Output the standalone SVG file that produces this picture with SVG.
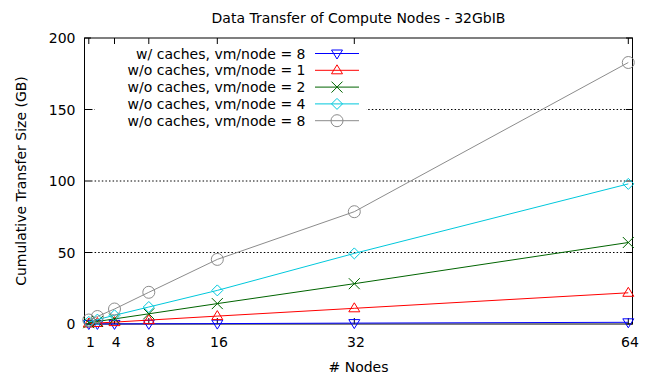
<svg xmlns="http://www.w3.org/2000/svg" xmlns:xlink="http://www.w3.org/1999/xlink" width="652" height="377" viewBox="0 0 652 377">
  <style>
    text { font-family: "DejaVu Sans", "Liberation Sans", sans-serif; font-size: 14px; fill: #000; }
    .ax { stroke: #000; stroke-width: 1; fill: none; }
    .grid { stroke: #000; stroke-width: 1; stroke-dasharray: 1.5 2.1; fill: none; }
    .s { fill: none; stroke-width: 1; }
    .ln { fill: none; }
  </style>
  <defs>
    <path id="tdn" d="M-5.5,-3.5 L5.5,-3.5 L0,5.5 Z"/>
    <path id="tup" d="M-5.5,3.5 L5.5,3.5 L0,-5.5 Z"/>
    <path id="crs" d="M-5.5,-5.5 L5.5,5.5 M-5.5,5.5 L5.5,-5.5"/>
    <path id="dia" d="M0,-5.5 L5.5,0 L0,5.5 L-5.5,0 Z"/>
    <circle id="cir" r="6"/>
  </defs>

  <rect width="652" height="377" fill="#fff"/>

  <!-- title and axis labels -->
  <text x="358.5" y="22.5" text-anchor="middle">Data Transfer of Compute Nodes - 32GbIB</text>
  <text x="358.5" y="372" text-anchor="middle"># Nodes</text>
  <text transform="translate(26,181) rotate(-90)" text-anchor="middle">Cumulative Transfer Size (GB)</text>

  <!-- grid -->
  <g id="grid">
    <path class="grid" d="M91,252.5 H626 M91,181 H626 M91,109.5 H626"/>
  </g>

  <!-- frame and ticks -->
  <g id="axes">
    <rect class="ax" x="84.5" y="38" width="548" height="286"/>
    <path class="ax" d="M88.8,324 V318 M114.5,324 V318 M148.8,324 V318 M217.3,324 V318 M354.3,324 V318 M628.3,324 V318
                       M88.8,38 V44 M114.5,38 V44 M148.8,38 V44 M217.3,38 V44 M354.3,38 V44 M628.3,38 V44
                       M84.5,324 H91 M84.5,252.5 H91 M84.5,181 H91 M84.5,109.5 H91 M84.5,38 H91
                       M632.5,324 H626 M632.5,252.5 H626 M632.5,181 H626 M632.5,109.5 H626 M632.5,38 H626"/>
    <g text-anchor="end">
      <text x="75.5" y="329">0</text>
      <text x="75.5" y="257.5">50</text>
      <text x="75.5" y="186">100</text>
      <text x="75.5" y="114.5">150</text>
      <text x="75.5" y="43">200</text>
    </g>
    <g text-anchor="middle">
      <text x="90.5" y="346.7">1</text>
      <text x="116.2" y="346.7">4</text>
      <text x="150.5" y="346.7">8</text>
      <text x="219" y="346.7">16</text>
      <text x="356" y="346.7">32</text>
      <text x="630" y="346.7">64</text>
    </g>
  </g>

  <!-- data series -->
  <g id="series-cache-vm8" class="s" stroke="#0000ff">
    <polyline class="ln" points="88.8,324 97.4,323.9 114.5,323.9 148.8,323.8 217.3,323.6 354.3,323.1 628.3,322.3"/>
    <use xlink:href="#tdn" x="88.8" y="324"/>
    <use xlink:href="#tdn" x="97.4" y="323.9"/>
    <use xlink:href="#tdn" x="114.5" y="323.9"/>
    <use xlink:href="#tdn" x="148.8" y="323.8"/>
    <use xlink:href="#tdn" x="217.3" y="323.6"/>
    <use xlink:href="#tdn" x="354.3" y="323.1"/>
    <use xlink:href="#tdn" x="628.3" y="322.3"/>
  </g>
  <g id="series-nocache-vm1" class="s" stroke="#ff0000">
    <polyline class="ln" points="88.8,323.5 97.4,323 114.5,322.1 148.8,320.1 217.3,316.1 354.3,308.3 628.3,292.8"/>
    <use xlink:href="#tup" x="88.8" y="323.5"/>
    <use xlink:href="#tup" x="97.4" y="323"/>
    <use xlink:href="#tup" x="114.5" y="322.1"/>
    <use xlink:href="#tup" x="148.8" y="320.1"/>
    <use xlink:href="#tup" x="217.3" y="316.1"/>
    <use xlink:href="#tup" x="354.3" y="308.3"/>
    <use xlink:href="#tup" x="628.3" y="292.8"/>
  </g>
  <g id="series-nocache-vm2" class="s" stroke="#006400">
    <polyline class="ln" points="88.8,322.7 97.4,321.5 114.5,318.9 148.8,313.8 217.3,303.6 354.3,283.7 628.3,242.5"/>
    <use xlink:href="#crs" x="88.8" y="322.7"/>
    <use xlink:href="#crs" x="97.4" y="321.5"/>
    <use xlink:href="#crs" x="114.5" y="318.9"/>
    <use xlink:href="#crs" x="148.8" y="313.8"/>
    <use xlink:href="#crs" x="217.3" y="303.6"/>
    <use xlink:href="#crs" x="354.3" y="283.7"/>
    <use xlink:href="#crs" x="628.3" y="242.5"/>
  </g>
  <g id="series-nocache-vm4" class="s" stroke="#00c8dc">
    <polyline class="ln" points="88.8,321.9 97.4,319.6 114.5,315.3 148.8,307 217.3,290.4 354.3,253.4 628.3,183.9"/>
    <use xlink:href="#dia" x="88.8" y="321.9"/>
    <use xlink:href="#dia" x="97.4" y="319.6"/>
    <use xlink:href="#dia" x="114.5" y="315.3"/>
    <use xlink:href="#dia" x="148.8" y="307"/>
    <use xlink:href="#dia" x="217.3" y="290.4"/>
    <use xlink:href="#dia" x="354.3" y="253.4"/>
    <use xlink:href="#dia" x="628.3" y="183.9"/>
  </g>
  <g id="series-nocache-vm8" class="s" stroke="#8c8c8c">
    <polyline class="ln" points="88.8,320 97.4,316.5 114.5,309 148.8,292.3 217.3,259.4 354.3,211.7 628.3,62.5"/>
    <use xlink:href="#cir" x="88.8" y="320"/>
    <use xlink:href="#cir" x="97.4" y="316.5"/>
    <use xlink:href="#cir" x="114.5" y="309"/>
    <use xlink:href="#cir" x="148.8" y="292.3"/>
    <use xlink:href="#cir" x="217.3" y="259.4"/>
    <use xlink:href="#cir" x="354.3" y="211.7"/>
    <use xlink:href="#cir" x="628.3" y="62.5"/>
  </g>

  <!-- key -->
  <g id="legend">
    <rect x="95" y="44" width="271" height="84" fill="#fff"/>
    <g text-anchor="end">
      <text x="305.5" y="58.5">w/ caches, vm/node = 8</text>
      <text x="305.5" y="75.3">w/o caches, vm/node = 1</text>
      <text x="305.5" y="92.1">w/o caches, vm/node = 2</text>
      <text x="305.5" y="108.9">w/o caches, vm/node = 4</text>
      <text x="305.5" y="125.7">w/o caches, vm/node = 8</text>
    </g>
    <g class="s" stroke="#0000ff"><path d="M315,53.5 H359"/><use xlink:href="#tdn" x="337" y="53.5"/></g>
    <g class="s" stroke="#ff0000"><path d="M315,70.3 H359"/><use xlink:href="#tup" x="337" y="70.3"/></g>
    <g class="s" stroke="#006400"><path d="M315,87.1 H359"/><use xlink:href="#crs" x="337" y="87.1"/></g>
    <g class="s" stroke="#00c8dc"><path d="M315,103.9 H359"/><use xlink:href="#dia" x="337" y="103.9"/></g>
    <g class="s" stroke="#8c8c8c"><path d="M315,120.7 H359"/><use xlink:href="#cir" x="337" y="120.7"/></g>
  </g>
</svg>
